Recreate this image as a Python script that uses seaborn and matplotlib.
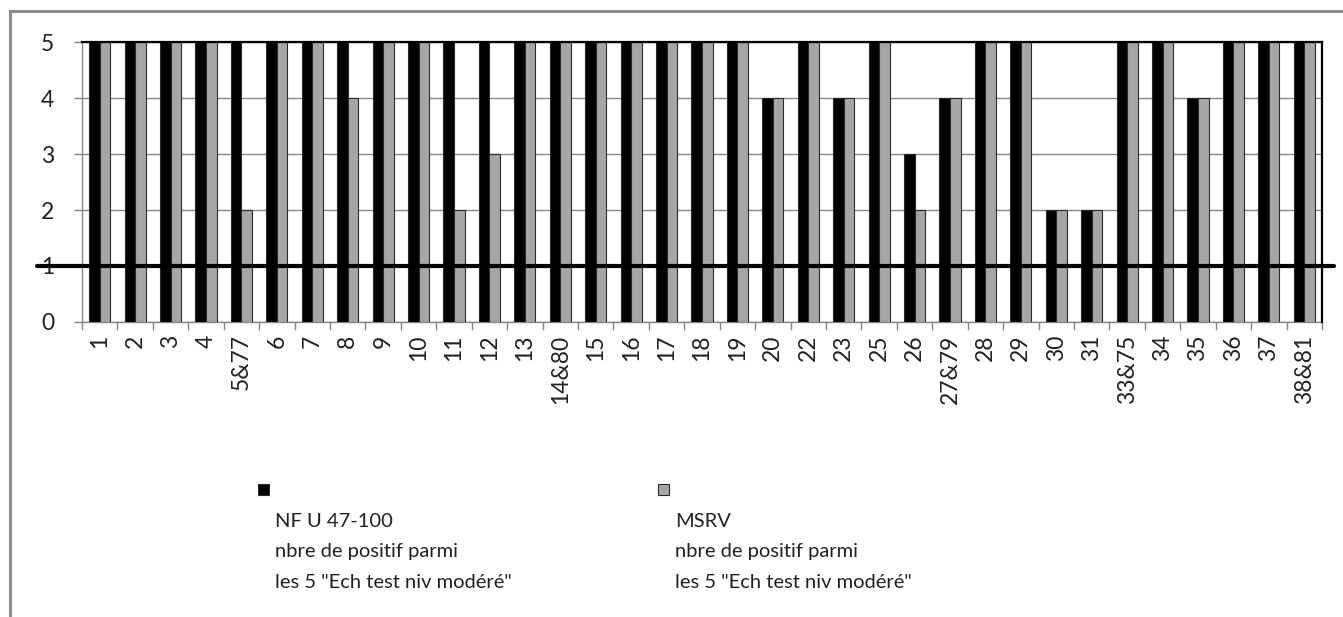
import matplotlib
matplotlib.use("Agg")
import matplotlib.pyplot as plt
import matplotlib.transforms as mtransforms
from matplotlib.patches import Rectangle
from matplotlib.lines import Line2D
import seaborn as sns
import pandas as pd

categories = ["1", "2", "3", "4", "5&77", "6", "7", "8", "9", "10", "11", "12", "13",
              "14&80", "15", "16", "17", "18", "19", "20", "22", "23", "25", "26",
              "27&79", "28", "29", "30", "31", "33&75", "34", "35", "36", "37", "38&81"]
nf_values = [5, 5, 5, 5, 5, 5, 5, 5, 5, 5, 5, 5, 5, 5, 5, 5, 5, 5, 5, 4, 5, 4, 5, 3,
             4, 5, 5, 2, 2, 5, 5, 4, 5, 5, 5]
msrv_values = [5, 5, 5, 5, 2, 5, 5, 4, 5, 5, 2, 3, 5, 5, 5, 5, 5, 5, 5, 4, 5, 4, 5, 2,
               4, 5, 5, 2, 2, 5, 5, 4, 5, 5, 5]
series_names = ["NF U 47-100\nnbre de positif parmi\nles 5 \"Ech test niv modéré\"",
                "MSRV\nnbre de positif parmi\nles 5 \"Ech test niv modéré\""]
threshold = 1
y_ticks = [0, 1, 2, 3, 4, 5]

df = pd.DataFrame({
    "cat": categories * 2,
    "val": nf_values + msrv_values,
    "series": [series_names[0]] * len(categories) + [series_names[1]] * len(categories),
})

sns.set_theme(style="white")
plt.rcParams['font.family'] = ['Lato', 'DejaVu Sans']

W, H = 1343, 617
fig = plt.figure(figsize=(W / 100, H / 100), dpi=100)
ax = fig.add_axes([82 / W, 1 - 322 / H, (1322 - 82) / W, (322 - 42) / H])

black = "#000000"
grey = "#A6A6A6"
sns.barplot(data=df, x="cat", y="val", hue="series", order=categories,
            hue_order=series_names, palette=[black, grey], width=0.6,
            edgecolor="#2b2b2b", linewidth=0.8, saturation=1, legend=False, ax=ax, zorder=3)

tick_fs = 16.5
ax.set_xlim(-0.5, len(categories) - 0.5)
ax.set_ylim(0, 5)
ax.set_yticks(y_ticks)
ax.set_yticklabels([str(t) for t in y_ticks], fontsize=tick_fs, color="#222222")
ax.set_xlabel("")
ax.set_ylabel("")
ax.set_xticks(range(len(categories)))
ax.set_xticklabels(categories, rotation=90, fontsize=tick_fs, color="#222222")
ax.set_xticks([i - 0.5 for i in range(len(categories) + 1)], minor=True)
ax.tick_params(axis="x", which="major", length=0, pad=9)
ax.tick_params(axis="x", which="minor", length=6, width=1, color="#868686", direction="out", bottom=True)
ax.tick_params(axis="y", which="major", length=6, width=1, color="#868686", direction="out", left=True, pad=14)

ax.yaxis.grid(True, color="#868686", linewidth=1)
ax.set_axisbelow(True)
for s in ["left", "bottom"]:
    ax.spines[s].set_color("#868686")
    ax.spines[s].set_linewidth(1)
for s in ["top", "right"]:
    ax.spines[s].set_color("#000000")
    ax.spines[s].set_linewidth(1.6)
    ax.spines[s].set_zorder(5)

# thick threshold line extending beyond axes
trans = mtransforms.blended_transform_factory(ax.transAxes, ax.transData)
ax.add_line(Line2D([(37 - 82) / 1240, (1334 - 82) / 1240], [threshold, threshold],
                   transform=trans, color="black", linewidth=3, clip_on=False, zorder=6))

# outer chart border
fig.add_artist(Rectangle((10 / W, -0.05), 1.1, 1 - 11 / H + 0.05, transform=fig.transFigure,
                         fill=False, edgecolor="#8c8c8c", linewidth=2.2))

# legend
for (x0, col), name in zip([(258, black), (658, grey)], series_names):
    fig.add_artist(Rectangle((x0 / W, 1 - 495 / H), 11 / W, 11 / H, transform=fig.transFigure,
                             facecolor=col, edgecolor="#2b2b2b", linewidth=0.8))
    fig.text((x0 + 17) / W, 1 - 513 / H, name, fontsize=14.5, color="#222222",
             va="top", ha="left", linespacing=1.95)

fig.savefig("out.png", dpi=100)
